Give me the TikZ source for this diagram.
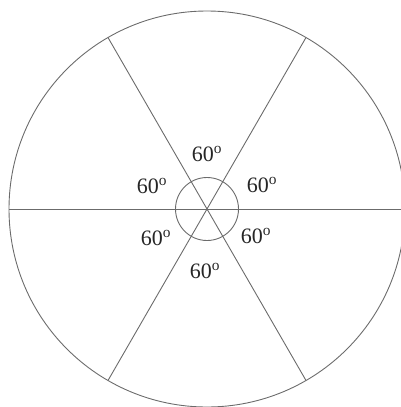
\documentclass[tikz,border=0pt]{standalone}
\usepackage{fontspec}
\setmainfont{Liberation Serif}
\begin{document}
\begin{tikzpicture}[x=1pt,y=-1pt,
  ln/.style={draw=black!58,line width=0.9pt},
  lab/.style={font=\fontsize{22}{24}\selectfont,text=black!85,inner sep=0pt}]
\useasboundingbox (0,0) rectangle (401,407);
\coordinate (O) at (207,209);
\draw[ln] (O) circle (198);
\draw[ln] (O) circle (31.5);
\coordinate (E) at ([shift={(0:198)}]O);
\coordinate (W) at ([shift={(180:198)}]O);
\coordinate (NE) at ([shift={(-60:198)}]O);
\coordinate (SW) at ([shift={(120:198)}]O);
\coordinate (NW) at ([shift={(-120:198)}]O);
\coordinate (SE) at ([shift={(60:198)}]O);
\draw[ln] (W) -- (E);
\draw[ln] (SW) -- (NE);
\draw[ln] (NW) -- (SE);
\node[lab] (t) at (207,154) {60\textsuperscript{o}};
\node[lab] (ul) at (152,186) {60\textsuperscript{o}};
\node[lab] (ur) at (262,185) {60\textsuperscript{o}};
\node[lab] (ll) at (156,238) {60\textsuperscript{o}};
\node[lab] (lr) at (256,236) {60\textsuperscript{o}};
\node[lab] (b) at (205,271) {60\textsuperscript{o}};
\end{tikzpicture}
\end{document}
